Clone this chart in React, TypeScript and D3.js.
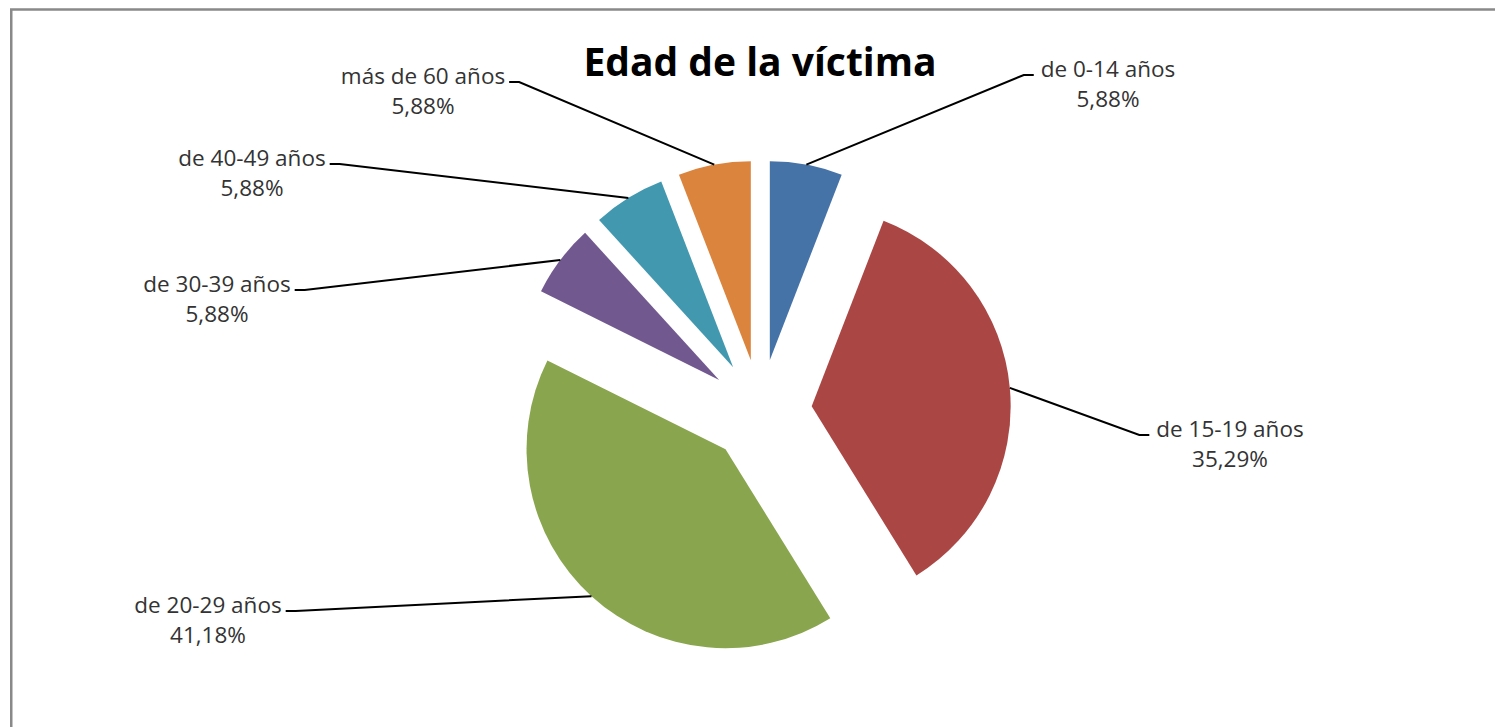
import React, { useEffect, useRef } from "react";
import * as d3 from "d3";

// ---- data ----
const categories = [
  "de 0-14 años",
  "de 15-19 años",
  "de 20-29 años",
  "de 30-39 años",
  "de 40-49 años",
  "más de 60 años",
];
const counts = [1, 6, 7, 1, 1, 1];
const colors = ["#4572A7", "#AA4643", "#89A54E", "#71588F", "#4198AF", "#DB843D"];
const title = "Edad de la víctima";

// ---- layout (label anchors: center x, first baseline, side of leader) ----
const labelLayout = [
  { x: 1108, y: 77, side: "right" },
  { x: 1230, y: 437, side: "right" },
  { x: 208, y: 613, side: "left" },
  { x: 217, y: 292, side: "left" },
  { x: 252, y: 166, side: "left" },
  { x: 423, y: 84, side: "left" },
];

const W = 1495;
const H = 727;
const CX = 760.3;
const CY = 411;
const R = 199;
const EXPLODE = 51.6;
const FONT = "'Open Sans', 'Noto Sans', sans-serif";

export default function App() {
  const ref = useRef<SVGSVGElement | null>(null);

  useEffect(() => {
    const svg = d3.select(ref.current);
    svg.selectAll("*").remove();

    svg
      .append("rect")
      .attr("x", 0)
      .attr("y", 0)
      .attr("width", W)
      .attr("height", H)
      .attr("fill", "#ffffff");

    svg
      .append("rect")
      .attr("x", 11.25)
      .attr("y", 9.5)
      .attr("width", 3000)
      .attr("height", 3000)
      .attr("fill", "none")
      .attr("stroke", "#898989")
      .attr("stroke-width", 2.5);

    svg
      .append("text")
      .attr("x", 760)
      .attr("y", 76)
      .attr("text-anchor", "middle")
      .attr("font-family", FONT)
      .attr("font-weight", 700)
      .attr("font-size", 39)
      .attr("fill", "#000")
      .text(title);

    const total = d3.sum(counts);
    const pie = d3
      .pie<number>()
      .sort(null)
      .value((d) => d);
    const arcs = pie(counts);
    const arc = d3.arc<d3.PieArcDatum<number>>().innerRadius(0).outerRadius(R);

    const g = svg.append("g").attr("transform", `translate(${CX},${CY})`);
    const lines = svg.append("g");
    const labels = svg.append("g");

    arcs.forEach((a, i) => {
      const mid = (a.startAngle + a.endAngle) / 2;
      const dx = EXPLODE * Math.sin(mid);
      const dy = -EXPLODE * Math.cos(mid);
      g.append("path")
        .attr("d", arc(a) as string)
        .attr("transform", `translate(${dx},${dy})`)
        .attr("fill", colors[i]);

      const ax = CX + (EXPLODE + R) * Math.sin(mid);
      const ay = CY - (EXPLODE + R) * Math.cos(mid);

      const lp = labelLayout[i];
      const pct = ((counts[i] / total) * 100).toFixed(2).replace(".", ",") + "%";
      const t1 = labels
        .append("text")
        .attr("x", lp.x)
        .attr("y", lp.y)
        .attr("text-anchor", "middle")
        .attr("font-family", FONT)
        .attr("font-size", 22.5)
        .attr("fill", "#333333")
        .text(categories[i]);
      labels
        .append("text")
        .attr("x", lp.x)
        .attr("y", lp.y + 30)
        .attr("text-anchor", "middle")
        .attr("font-family", FONT)
        .attr("font-size", 22.5)
        .attr("fill", "#333333")
        .text(pct);

      const w = (t1.node() as SVGTextElement).getComputedTextLength();
      const hy = lp.y - 2;
      let x0: number, x1: number;
      if (lp.side === "right") {
        x1 = lp.x - w / 2 - 7;
        x0 = x1 - 10;
      } else {
        x1 = lp.x + w / 2 + 4;
        x0 = x1 + 10;
      }
      lines
        .append("path")
        .attr("d", `M${ax},${ay}L${x0},${hy}L${x1},${hy}`)
        .attr("fill", "none")
        .attr("stroke", "#000")
        .attr("stroke-width", 2);
    });
  }, []);

  return (
    <svg
      ref={ref}
      width={W}
      height={H}
      style={{ position: "absolute", left: 0, top: 0, display: "block" }}
    />
  );
}
